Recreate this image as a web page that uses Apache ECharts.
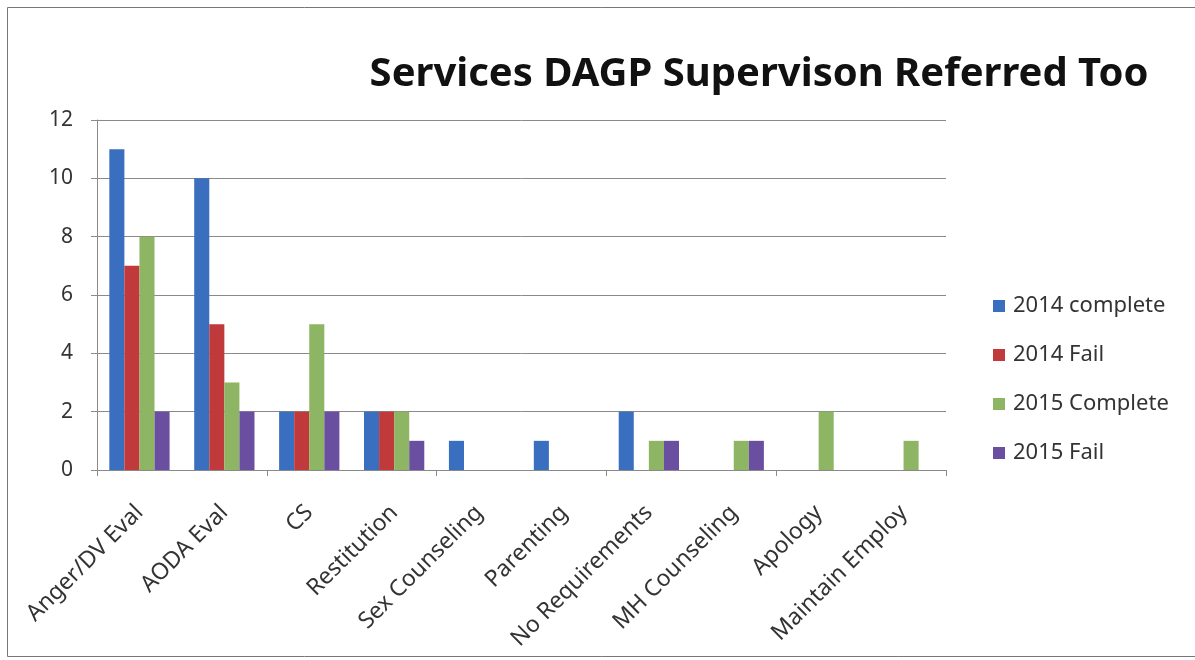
<!DOCTYPE html>
<html>
<head>
<meta charset="utf-8">
<style>
  html, body { margin: 0; padding: 0; background: #fff; }
  #chart { width: 1195px; height: 660px; }
</style>
<script src="https://cdn.jsdelivr.net/npm/echarts@6/dist/echarts.min.js"></script>
</head>
<body>
<div id="chart"></div>
<script>
// Services referred to, by outcome and year
const categories = ['Anger/DV Eval', 'AODA Eval', 'CS', 'Restitution', 'Sex Counseling',
  'Parenting', 'No Requirements', 'MH Counseling', 'Apology', 'Maintain Employ'];
const complete2014 = [11, 10, 2, 2, 1, 1, 2, 0, 0, 0];
const fail2014     = [7, 5, 2, 2, 0, 0, 0, 0, 0, 0];
const complete2015 = [8, 3, 5, 2, 0, 0, 1, 1, 2, 1];
const fail2015     = [2, 2, 2, 1, 0, 0, 1, 1, 0, 0];
const seriesNames = ['2014 complete', '2014 Fail', '2015 Complete', '2015 Fail'];
const yTicks = [0, 2, 4, 6, 8, 10, 12];

const FONT = '"Noto Sans", "Open Sans", sans-serif';
const colors = ['#3A6EBE', '#C0393B', '#8DB563', '#6A4FA0'];
const values = [complete2014, fail2014, complete2015, fail2015];

const chart = echarts.init(document.getElementById('chart'));
chart.setOption({
  animation: false,
  backgroundColor: '#fff',
  color: colors,
  title: {
    text: 'Services DAGP Supervison Referred Too',
    left: 754, top: 50, textAlign: 'center',
    textStyle: { fontFamily: FONT, fontSize: 40, fontWeight: 'bold', color: '#111' }
  },
  legend: {
    orient: 'vertical', left: 988, top: 290, itemGap: 27,
    itemWidth: 12, itemHeight: 12, icon: 'rect',
    data: seriesNames,
    textStyle: { fontFamily: FONT, fontSize: 22, lineHeight: 21, color: '#333', padding: [0, 0, 0, 3] }
  },
  grid: { left: 97, right: 249, top: 120, bottom: 190 },
  xAxis: [{
    // axis line and ticks
    type: 'category', data: categories,
    axisLine: { lineStyle: { color: '#8a8a8a', width: 1 } },
    axisTick: { show: true, length: 6, lineStyle: { color: '#8a8a8a' } },
    axisLabel: { show: false }
  }, {
    // rotated category labels, set a little lower than the axis line
    type: 'category', data: categories, position: 'bottom', offset: 13,
    axisLine: { show: false }, axisTick: { show: false }, splitLine: { show: false },
    axisLabel: { interval: 0, rotate: 45, margin: 26,
      fontFamily: FONT, fontSize: 23, color: '#333' }
  }],
  yAxis: {
    type: 'value', min: yTicks[0], max: yTicks[yTicks.length - 1], interval: 2,
    axisLine: { show: true, lineStyle: { color: '#8a8a8a', width: 1 } },
    axisTick: { show: true, length: 6, lineStyle: { color: '#8a8a8a' } },
    splitLine: { lineStyle: { color: '#8a8a8a', width: 1 } },
    axisLabel: { margin: 24, fontFamily: FONT, fontSize: 21, color: '#333' }
  },
  series: seriesNames.map((name, i) => ({
    name, type: 'bar', data: values[i], xAxisIndex: 0,
    barGap: '0%', barCategoryGap: '29%'
  })),
  graphic: [{
    type: 'rect', silent: true,
    shape: { x: 7.5, y: 7.5, width: 1200, height: 649 },
    style: { fill: 'none', stroke: '#777', lineWidth: 1 }
  }]
});
</script>
</body>
</html>
